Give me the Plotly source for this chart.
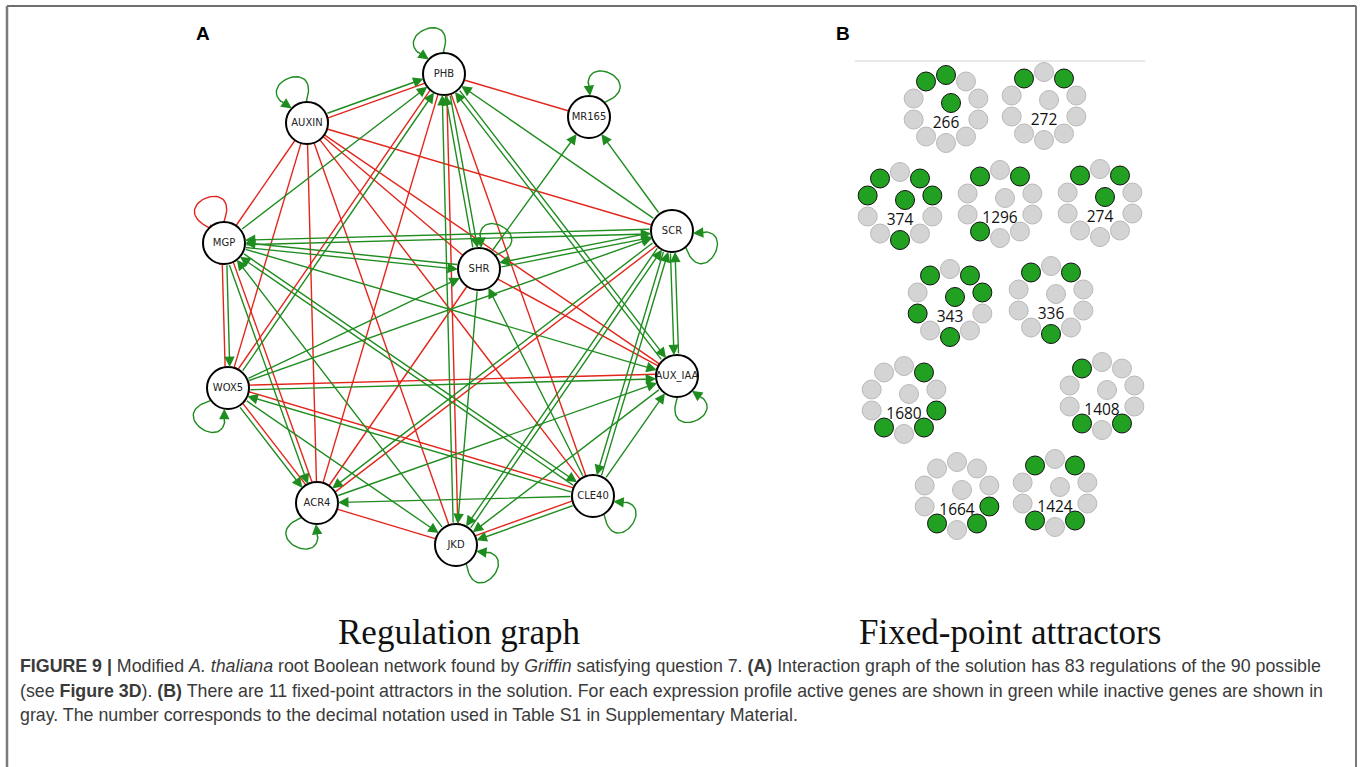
import math
import plotly.graph_objects as go

# ---------------- Panel A: regulation graph ----------------
node_names = ["PHB", "MR165", "SCR", "AUX_IAA", "CLE40", "JKD", "ACR4", "WOX5", "MGP", "AUXIN", "SHR"]
node_x = [444, 589, 672, 677, 593, 456, 317, 228, 224, 307, 479]
node_y = [74, 117, 231, 376, 496, 545, 503, 388, 243, 123, 269]

# self-regulations (sign: +1 activation, -1 inhibition)
self_nodes = ["PHB", "MR165", "SCR", "AUX_IAA", "CLE40", "JKD", "ACR4", "WOX5", "MGP", "AUXIN", "SHR"]
self_sign = [1, 1, 1, 1, 1, 1, 1, 1, -1, 1, 1]

# regulations between distinct genes
edge_src = ["AUXIN", "PHB", "PHB", "AUX_IAA", "SCR", "PHB", "SHR", "JKD", "PHB", "CLE40",
            "WOX5", "PHB", "PHB", "MGP", "AUXIN", "AUXIN", "AUXIN", "AUXIN", "AUXIN", "AUXIN",
            "AUXIN", "SCR", "SHR", "MGP", "MGP", "WOX5", "MGP", "ACR4", "JKD", "CLE40",
            "MGP", "WOX5", "WOX5", "WOX5", "AUX_IAA", "CLE40", "WOX5", "WOX5", "WOX5", "ACR4",
            "ACR4", "SCR", "ACR4", "ACR4", "CLE40", "ACR4", "SHR", "SCR", "CLE40", "JKD",
            "CLE40", "SCR", "CLE40", "SCR", "AUX_IAA", "SCR", "SHR", "SCR", "SHR", "SHR",
            "AUX_IAA", "JKD", "MGP", "AUXIN", "PHB", "MGP", "CLE40"]
edge_dst = ["PHB", "AUXIN", "MR165", "PHB", "PHB", "SHR", "PHB", "PHB", "JKD", "PHB",
            "PHB", "WOX5", "ACR4", "PHB", "MGP", "WOX5", "ACR4", "JKD", "CLE40", "AUX_IAA",
            "SCR", "MGP", "MGP", "SHR", "WOX5", "MGP", "ACR4", "MGP", "MGP", "MGP",
            "AUX_IAA", "SHR", "SCR", "AUX_IAA", "WOX5", "WOX5", "CLE40", "JKD", "ACR4", "WOX5",
            "SHR", "ACR4", "SCR", "AUX_IAA", "ACR4", "JKD", "JKD", "JKD", "JKD", "CLE40",
            "SHR", "CLE40", "AUX_IAA", "AUX_IAA", "SCR", "MR165", "SCR", "SHR", "MR165", "AUX_IAA",
            "JKD", "SCR", "CLE40", "SHR", "AUX_IAA", "SCR", "SCR"]
edge_sign = [1, -1, -1, 1, 1, 1, 1, 1, -1, -1,
             1, -1, -1, 1, -1, -1, -1, -1, -1, -1,
             -1, 1, 1, 1, 1, -1, 1, -1, 1, 1,
             1, 1, 1, 1, -1, 1, -1, 1, 1, -1,
             -1, 1, -1, 1, 1, -1, 1, 1, 1, -1,
             1, 1, 1, 1, 1, 1, 1, 1, 1, -1,
             1, 1, 1, -1, 1, 1, 1]

# direction (screen degrees, y down) in which each self-loop is drawn
loop_dir = {"PHB": -114, "MR165": -65, "SCR": 28, "AUX_IAA": 67, "CLE40": 37, "JKD": 39,
            "ACR4": 115, "WOX5": 122, "MGP": -112, "AUXIN": -114, "SHR": -62}

# ---------------- Panel B: fixed-point attractors ----------------
attractor_ids = [266, 272, 374, 1296, 274, 343, 336, 1680, 1408, 1664, 1424]
attractor_cx = [946, 1044, 900, 1000, 1100, 950, 1051, 904, 1102, 957, 1055]
attractor_cy = [109, 106, 206, 204, 203, 303, 300, 400, 396, 496, 493]
# gene activity: ten ring positions clockwise from the top, then the inner gene
attractor_states = [
    [1, 0, 0, 0, 0, 0, 0, 0, 0, 1, 1],
    [0, 1, 0, 0, 0, 0, 0, 0, 0, 1, 0],
    [0, 1, 1, 0, 0, 1, 0, 0, 1, 1, 1],
    [0, 1, 0, 0, 0, 0, 1, 0, 0, 1, 0],
    [0, 1, 0, 0, 0, 0, 0, 0, 0, 1, 1],
    [0, 1, 1, 0, 0, 1, 0, 1, 0, 1, 1],
    [0, 1, 0, 0, 0, 1, 0, 0, 0, 1, 0],
    [0, 1, 0, 1, 1, 0, 1, 0, 0, 0, 0],
    [0, 0, 0, 0, 1, 0, 1, 0, 0, 1, 0],
    [0, 0, 0, 1, 1, 0, 1, 0, 0, 0, 0],
    [0, 1, 0, 0, 1, 0, 1, 0, 0, 1, 0],
]

GREEN = "#1f8c1f"
RED = "#e3261b"
NODE_R = 21
W, H = 1362, 767

pos = {n: (x, y) for n, x, y in zip(node_names, node_x, node_y)}

fig = go.Figure()
annotations = []
shapes = []


def unit(dx, dy):
    d = math.hypot(dx, dy)
    return dx / d, dy / d


# parallel offsets for gene pairs linked by two regulations
pair_edges = {}
for i, (s, d) in enumerate(zip(edge_src, edge_dst)):
    pair_edges.setdefault(tuple(sorted((s, d))), []).append(i)
offset = {}
for key, idx in pair_edges.items():
    if len(idx) == 1:
        offset[idx[0]] = 0.0
    else:
        for k, i in enumerate(idx):
            offset[i] = (-2.3 if k == 0 else 2.3)

red_x, red_y = [], []
for i, (s, d, sg) in enumerate(zip(edge_src, edge_dst, edge_sign)):
    a, b = sorted((s, d))
    cux, cuy = unit(pos[b][0] - pos[a][0], pos[b][1] - pos[a][1])
    px, py = -cuy, cux
    off = offset[i]
    x1, y1 = pos[s]
    x2, y2 = pos[d]
    ux, uy = unit(x2 - x1, y2 - y1)
    rr = math.sqrt(NODE_R ** 2 - off ** 2)
    sx, sy = x1 + ux * rr + px * off, y1 + uy * rr + py * off
    ex, ey = x2 - ux * rr + px * off, y2 - uy * rr + py * off
    if sg > 0:
        annotations.append(dict(x=ex, y=ey, ax=sx, ay=sy, xref="x", yref="y", axref="x", ayref="y",
                                text="", showarrow=True, arrowhead=2, arrowsize=1.5,
                                arrowwidth=1.4, arrowcolor=GREEN))
    else:
        red_x += [sx, ex, None, ex - uy * 3.5, ex + uy * 3.5, None]
        red_y += [sy, ey, None, ey + ux * 3.5, ey - ux * 3.5, None]


def bezier(p0, p1, p2, p3, t):
    m = 1 - t
    return (m ** 3 * p0[0] + 3 * m * m * t * p1[0] + 3 * m * t * t * p2[0] + t ** 3 * p3[0],
            m ** 3 * p0[1] + 3 * m * m * t * p1[1] + 3 * m * t * t * p2[1] + t ** 3 * p3[1])


green_loop_x, green_loop_y = [], []
for n, sg in zip(self_nodes, self_sign):
    cx, cy = pos[n]
    th = math.radians(loop_dir[n])
    al, be, L = math.radians(22), math.radians(42), 52
    p0 = (cx + NODE_R * math.cos(th + al), cy + NODE_R * math.sin(th + al))
    p3 = (cx + NODE_R * math.cos(th - al), cy + NODE_R * math.sin(th - al))
    p1 = (p0[0] + L * math.cos(th + be), p0[1] + L * math.sin(th + be))
    p2 = (p3[0] + L * math.cos(th - be), p3[1] + L * math.sin(th - be))
    pts = [bezier(p0, p1, p2, p3, k / 40) for k in range(41)]
    if sg > 0:
        green_loop_x += [p[0] for p in pts[:37]] + [None]
        green_loop_y += [p[1] for p in pts[:37]] + [None]
        tail = pts[35]
        annotations.append(dict(x=p3[0], y=p3[1], ax=tail[0], ay=tail[1], xref="x", yref="y",
                                axref="x", ayref="y", text="", showarrow=True, arrowhead=2,
                                arrowsize=1.5, arrowwidth=1.4, arrowcolor=GREEN))
    else:
        red_x += [p[0] for p in pts] + [None]
        red_y += [p[1] for p in pts] + [None]
        ux, uy = unit(p3[0] - pts[38][0], p3[1] - pts[38][1])
        red_x += [p3[0] - uy * 3.5, p3[0] + uy * 3.5, None]
        red_y += [p3[1] + ux * 3.5, p3[1] - ux * 3.5, None]

fig.add_trace(go.Scatter(x=red_x, y=red_y, mode="lines", line=dict(color=RED, width=1.4),
                         hoverinfo="skip"))
fig.add_trace(go.Scatter(x=green_loop_x, y=green_loop_y, mode="lines",
                         line=dict(color=GREEN, width=1.4), hoverinfo="skip"))
fig.add_trace(go.Scatter(x=node_x, y=node_y, mode="markers+text", text=node_names,
                         textposition="middle center",
                         textfont=dict(family="DejaVu Sans", size=10, color="#222222"),
                         marker=dict(size=2 * NODE_R, color="white",
                                     line=dict(color="black", width=2)),
                         hoverinfo="text"))

# ---- attractor rings ----
ring_r = 34
gx, gy, ax_, ay_ = [], [], [], []
for cx, cy, st in zip(attractor_cx, attractor_cy, attractor_states):
    for k in range(10):
        ang = math.radians(90 - 36 * k)
        x, y = cx + ring_r * math.cos(ang), cy - ring_r * math.sin(ang)
        (ax_ if st[k] else gx).append(x)
        (ay_ if st[k] else gy).append(y)
    x, y = cx + 5, cy - 6
    (ax_ if st[10] else gx).append(x)
    (ay_ if st[10] else gy).append(y)

fig.add_trace(go.Scatter(x=gx, y=gy, mode="markers", hoverinfo="skip",
                         marker=dict(size=19, color="#d4d4d4", line=dict(color="#b9b9b9", width=1))))
fig.add_trace(go.Scatter(x=ax_, y=ay_, mode="markers", hoverinfo="skip",
                         marker=dict(size=19, color="#22a022", line=dict(color="#111111", width=1))))
fig.add_trace(go.Scatter(x=[cx for cx in attractor_cx], y=[cy + 15 for cy in attractor_cy],
                         mode="text", text=[str(v) for v in attractor_ids],
                         textfont=dict(family="Open Sans", size=15.5, color="#111111"),
                         hoverinfo="skip"))

# separator line above panel B
shapes.append(dict(type="line", xref="x", yref="y", x0=855, x1=1145, y0=61, y1=61,
                   line=dict(color="#d0d0d0", width=1)))

# frame
shapes += [
    dict(type="line", xref="x", yref="y", x0=7, x1=1356, y0=6, y1=6, line=dict(color="#6e6e6e", width=2)),
    dict(type="line", xref="x", yref="y", x0=7, x1=7, y0=6, y1=767, line=dict(color="#7a7a7a", width=2.5)),
    dict(type="line", xref="x", yref="y", x0=1356, x1=1356, y0=6, y1=767, line=dict(color="#7a7a7a", width=2)),
]

# panel letters and titles
annotations += [
    dict(x=203, y=33, xref="x", yref="y", text="<b>A</b>", showarrow=False,
         font=dict(family="Liberation Sans", size=19, color="black")),
    dict(x=843, y=33, xref="x", yref="y", text="<b>B</b>", showarrow=False,
         font=dict(family="Liberation Sans", size=19, color="black")),
    dict(x=459, y=632, xref="x", yref="y", text="Regulation graph", showarrow=False,
         font=dict(family="Liberation Serif", size=35, color="#111111")),
    dict(x=1010, y=632, xref="x", yref="y", text="Fixed-point attractors", showarrow=False,
         font=dict(family="Liberation Serif", size=35, color="#111111")),
]

caption_lines = [
    "<b>FIGURE 9 |</b> Modified <i>A. thaliana</i> root Boolean network found by <i>Griffin</i> "
    "satisfying question 7. <b>(A)</b> Interaction graph of the solution has 83 regulations of the 90 possible",
    "(see <b>Figure 3D</b>). <b>(B)</b> There are 11 fixed-point attractors in the solution. For each "
    "expression profile active genes are shown in green while inactive genes are shown in",
    "gray. The number corresponds to the decimal notation used in Table S1 in Supplementary Material.",
]
for k, line in enumerate(caption_lines):
    annotations.append(dict(x=18, y=666 + 24.5 * k, xref="x", yref="y", text=line, showarrow=False,
                            xanchor="left", yanchor="middle",
                            font=dict(family="Liberation Sans", size=17.8, color="#3a3a3a")))

fig.update_layout(
    width=W, height=H, margin=dict(l=0, r=0, t=0, b=0),
    paper_bgcolor="white", plot_bgcolor="white", showlegend=False,
    xaxis=dict(range=[0, W], visible=False, fixedrange=True),
    yaxis=dict(range=[H, 0], visible=False, fixedrange=True),
    annotations=annotations, shapes=shapes,
)

fig.write_html("out.html")
